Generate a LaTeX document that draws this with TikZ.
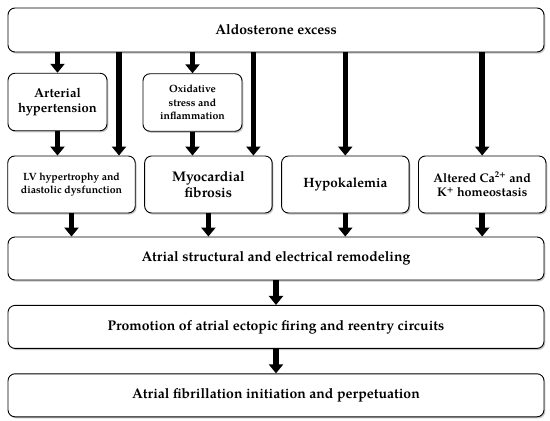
\documentclass[tikz,border=0pt]{standalone}
\usepackage{fontspec}
\setmainfont{TeX Gyre Pagella}
\usepackage{tikz}
\usetikzlibrary{arrows.meta, positioning, shadows}
\tikzset{
  blok/.style={rectangle, rounded corners=7pt, draw=black, line width=0.9pt, fill=white,
    drop shadow={shadow xshift=1.3pt, shadow yshift=-1.6pt, fill=black!45, opacity=0.5},
    align=center, font=\bfseries},
  wide/.style={blok, minimum width=536pt, minimum height=43pt, font=\bfseries\fontsize{14}{16}\selectfont},
  effect/.style={blok, minimum width=127.5pt, minimum height=57pt},
  cause/.style={blok, minimum width=99pt, minimum height=57.5pt},
  flow/.style={-{Triangle[width=14pt, length=9pt]}, line width=5.5pt, black}
}

\begin{document}
\begin{tikzpicture}[x=1pt, y=-1pt, node distance=24.5pt and 8.5pt]
  \useasboundingbox (0,0) rectangle (550,421);
  % top source
  \node[wide, minimum height=44pt] (aldo) at (276,30) {Aldosterone excess};
  % intermediate causes
  \node[cause, font=\bfseries\fontsize{13}{15.5}\selectfont] (hiper) at (57.5,102) {Arterial\\hypertension};
  \node[cause, font=\bfseries\fontsize{10.5}{13.3}\selectfont] (oksi) at (192.5,102.5) {Oxidative\\stress and\\inflammation};
  % direct effects
  \node[effect, font=\bfseries\fontsize{10.5}{13.5}\selectfont] (lvh) at (71.5,184.5) {LV hypertrophy and\\diastolic dysfunction};
  \node[effect, right=of lvh, font=\bfseries\fontsize{14}{16.5}\selectfont] (fibro) {Myocardial\\fibrosis};
  \node[effect, right=of fibro, font=\bfseries\fontsize{13.5}{15}\selectfont] (hipok) {Hypokalemia};
  \node[effect, right=of hipok, font=\bfseries\fontsize{12.5}{14.5}\selectfont] (ion) {Altered Ca\textsuperscript{2+} and\\K\textsuperscript{+} homeostasis};
  % main chain
  \node[wide] (remod) at (276,258.5) {Atrial structural and electrical remodeling};
  \node[wide, below=of remod] (promo) {Promotion of atrial ectopic firing and reentry circuits};
  \node[wide, below=of promo] (af) {Atrial fibrillation initiation and perpetuation};

  \draw[flow] (aldo.south -| hiper) -- (hiper);
  \draw[flow] (aldo.south -| oksi) -- (oksi);
  \draw[flow] ([xshift=47.5pt]lvh.north |- aldo.south) -- ([xshift=47.5pt]lvh.north);
  \draw[flow] ([xshift=45pt]fibro.north |- aldo.south) -- ([xshift=45pt]fibro.north);
  \draw[flow] (aldo.south -| hipok) -- (hipok);
  \draw[flow] (aldo.south -| ion) -- (ion);
  \draw[flow] (hiper.south) -- (lvh.north -| hiper);
  \draw[flow] (oksi.south) -- (fibro.north -| oksi);
  \foreach \n in {lvh, fibro, hipok, ion}
    \draw[flow] (\n.south) -- (remod.north -| \n);
  \draw[flow] (remod) -- (promo);
  \draw[flow] (promo) -- (af);
\end{tikzpicture}
\end{document}
